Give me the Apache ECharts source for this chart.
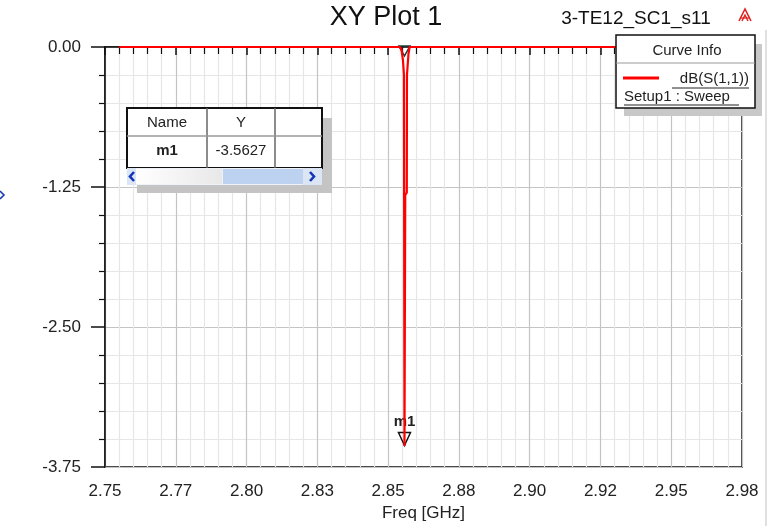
<!DOCTYPE html>
<html>
<head>
<meta charset="utf-8">
<script src="https://cdn.jsdelivr.net/npm/echarts@6/dist/echarts.min.js"></script>
<style>
  html, body { margin: 0; padding: 0; background: #fff; }
  #chart { width: 769px; height: 526px; }
</style>
</head>
<body>
<div id="chart"></div>
<script>
// Sweep of dB(S(1,1)) around the resonance near 2.856 GHz
const freqGHz = [2.755, 2.800, 2.850, 2.8540, 2.8547, 2.85525, 2.8556, 2.85578, 2.85605, 2.8566, 2.85666, 2.8572, 2.8576, 2.900, 2.975];
const s11dB   = [0, 0, 0, 0, -0.02, -0.12, -0.25, -3.5627, -1.32, -1.30, -0.25, -0.06, 0, 0, 0];

const xTickLabels = ['2.75', '2.77', '2.80', '2.83', '2.85', '2.88', '2.90', '2.92', '2.95', '2.98'];
const yTickLabels = ['-3.75', '-2.50', '-1.25', '0.00'];
const xMin = 2.75, xMax = 2.975, xStep = 0.025;
const yMin = -3.75, yMax = 0, yStep = 1.25;

const markerName = 'm1';
const curveName = 'dB(S(1,1))';
const sweepName = 'Setup1 : Sweep';
const plotTitle = 'XY Plot 1';
const designName = '3-TE12_SC1_s11';

// marker sits on the deepest point of the curve
let minIdx = 0;
s11dB.forEach((v, i) => { if (v < s11dB[minIdx]) minIdx = i; });
const markerX = freqGHz[minIdx];
const markerY = s11dB[minIdx];

const FONT = "'Liberation Sans', Arial, sans-serif";
const chart = echarts.init(document.getElementById('chart'));

const txt = (x, y, text, size, extra, z) => ({
  type: 'text', x: x, y: y, z: z || 10,
  style: Object.assign({ text: text, fontFamily: FONT, fontSize: size, fill: '#111', align: 'center', verticalAlign: 'middle' }, extra || {})
});
const hline = (x1, x2, y, color, w, z) => ({ type: 'line', shape: { x1: x1, y1: y, x2: x2, y2: y }, style: { stroke: color, lineWidth: w }, z: z || 10 });
const vline = (x, y1, y2, color, w, z) => ({ type: 'line', shape: { x1: x, y1: y1, x2: x, y2: y2 }, style: { stroke: color, lineWidth: w }, z: z || 10 });

chart.setOption({
  animation: false,
  backgroundColor: '#fff',
  grid: {
    left: 105, right: 27, top: 47, bottom: 59,
    outerBoundsMode: 'none', containLabel: false,
    show: true, borderColor: '#111', borderWidth: 1.5, backgroundColor: 'transparent'
  },
  xAxis: {
    type: 'value', min: xMin, max: xMax, interval: xStep,
    name: 'Freq [GHz]', nameLocation: 'middle', nameGap: 38,
    nameTextStyle: { fontFamily: FONT, fontSize: 17, color: '#222' },
    axisLine: { show: true, lineStyle: { color: '#111', width: 1.5 } },
    axisTick: { show: true, inside: false, length: 8, lineStyle: { color: '#111', width: 1.5 } },
    minorTick: { show: true, splitNumber: 5, length: 7, lineStyle: { color: '#111', width: 1.2 } },
    splitLine: { show: true, lineStyle: { color: '#c4c4c4', width: 1.2 } },
    minorSplitLine: { show: true, lineStyle: { color: '#e6e6e6', width: 1.2 } },
    axisLabel: {
      margin: 16, fontFamily: FONT, fontSize: 17, color: '#222',
      formatter: v => xTickLabels[Math.round((v - xMin) / xStep)]
    }
  },
  yAxis: {
    type: 'value', min: yMin, max: yMax, interval: yStep,
    axisLine: { show: true, onZero: false, lineStyle: { color: '#111', width: 1.5 } },
    axisTick: { show: true, inside: false, length: 14, lineStyle: { color: '#111', width: 1.5 } },
    minorTick: { show: true, splitNumber: 5, length: 6, lineStyle: { color: '#111', width: 1.2 } },
    splitLine: { show: true, lineStyle: { color: '#c4c4c4', width: 1.2 } },
    minorSplitLine: { show: true, lineStyle: { color: '#e6e6e6', width: 1.2 } },
    axisLabel: {
      margin: 24, fontFamily: FONT, fontSize: 17, color: '#222',
      formatter: v => yTickLabels[Math.round((v - yMin) / yStep)]
    }
  },
  series: [{
    name: curveName,
    type: 'line',
    z: 6,
    data: freqGHz.map((f, i) => [f, s11dB[i]]),
    showSymbol: false,
    symbol: 'none',
    lineStyle: { color: '#ff0000', width: 2.2 },
    markPoint: {
      z: 5,
      data: [
        {
          coord: [markerX, markerY], name: markerName,
          symbol: 'triangle', symbolRotate: 180, symbolSize: [12, 13], symbolOffset: [0, -7],
          itemStyle: { color: 'rgba(255,255,255,0)', borderColor: '#111', borderWidth: 1.5 },
          label: { show: true, position: 'top', distance: 2, formatter: markerName, fontFamily: FONT, fontSize: 15, fontWeight: 'bold', color: '#222' }
        },
        {
          coord: [markerX, 0],
          symbol: 'triangle', symbolRotate: 180, symbolSize: [11, 10], symbolOffset: [0, 4],
          itemStyle: { color: 'rgba(255,255,255,0)', borderColor: '#203a3a', borderWidth: 1.5 },
          label: { show: false }
        }
      ]
    }
  }],
  graphic: [
    // title and design name
    txt(386, 18, plotTitle, 27),
    txt(636, 19, designName, 19),
    // product logo mark
    { type: 'polyline', z: 10, shape: { points: [[739, 21], [745, 9], [751, 21]] }, style: { stroke: '#e02020', lineWidth: 1.6, fill: 'none' } },
    { type: 'polyline', z: 10, shape: { points: [[742, 21], [745, 15], [748, 21]] }, style: { stroke: '#e02020', lineWidth: 1.4, fill: 'none' } },
    hline(740, 750, 18, '#e02020', 1.2),
    // faint page edge on the right
    vline(766, 30, 526, '#d6d6d6', 1.5, 1),
    // small blue arrow at left edge
    { type: 'polyline', z: 10, shape: { points: [[0, 191], [4, 195], [0, 199]] }, style: { stroke: '#1a3fb0', lineWidth: 1.6, fill: 'none' } },

    // marker table
    { type: 'rect', z: 20, shape: { x: 137, y: 118, width: 195, height: 75 }, style: { fill: '#c4c4c4' } },
    { type: 'rect', z: 21, shape: { x: 127, y: 108, width: 195, height: 60 }, style: { fill: '#fff', stroke: '#111', lineWidth: 2 } },
    vline(207, 108, 168, '#666', 1.5, 22),
    vline(275, 108, 168, '#666', 1.5, 22),
    hline(127, 322, 136, '#999', 1.5, 22),
    txt(167, 123, 'Name', 15, { fill: '#222' }, 23),
    txt(241, 123, 'Y', 15, { fill: '#222' }, 23),
    txt(167, 151, markerName, 15, { fill: '#222', fontWeight: 'bold' }, 23),
    txt(241, 151, markerY.toFixed(4), 15, { fill: '#222' }, 23),
    // table scrollbar
    { type: 'rect', z: 22, shape: { x: 127, y: 168, width: 195, height: 17 }, style: { fill: '#eef1f6' } },
    { type: 'rect', z: 22, shape: { x: 127, y: 168, width: 9, height: 17 }, style: { fill: '#dbe5f4' } },
    { type: 'rect', z: 22, shape: { x: 136, y: 169, width: 86, height: 15 },
      style: { fill: new echarts.graphic.LinearGradient(0, 0, 1, 0, [{ offset: 0, color: '#ffffff' }, { offset: 1, color: '#e8e8e8' }]) } },
    { type: 'rect', z: 22, shape: { x: 223, y: 169, width: 80, height: 15 }, style: { fill: '#bcd2f0' } },
    { type: 'rect', z: 22, shape: { x: 303, y: 168, width: 19, height: 17 }, style: { fill: '#dbe5f4' } },
    { type: 'polyline', z: 23, shape: { points: [[134, 172], [130, 176.5], [134, 181]] }, style: { stroke: '#1436b8', lineWidth: 2.6, fill: 'none' } },
    { type: 'polyline', z: 23, shape: { points: [[310, 172], [314, 176.5], [310, 181]] }, style: { stroke: '#1436b8', lineWidth: 2.6, fill: 'none' } },

    // curve info box
    { type: 'rect', z: 20, shape: { x: 624, y: 44, width: 138, height: 72 }, style: { fill: '#c8c8c8' } },
    { type: 'rect', z: 21, shape: { x: 616, y: 35, width: 139, height: 73 }, style: { fill: '#fff', stroke: '#111', lineWidth: 1.5 } },
    hline(616, 755, 63, '#999', 1.2, 22),
    txt(687, 51, 'Curve Info', 15, { fill: '#222' }, 23),
    hline(623, 659, 78, '#ff0000', 3, 22),
    txt(749, 79, curveName, 15, { fill: '#222', align: 'right' }, 23),
    hline(672, 749, 88, '#222', 1, 23),
    txt(624, 97, sweepName, 15, { fill: '#222', align: 'left' }, 23),
    hline(624, 739, 105, '#222', 1, 23)
  ]
});
</script>
</body>
</html>
